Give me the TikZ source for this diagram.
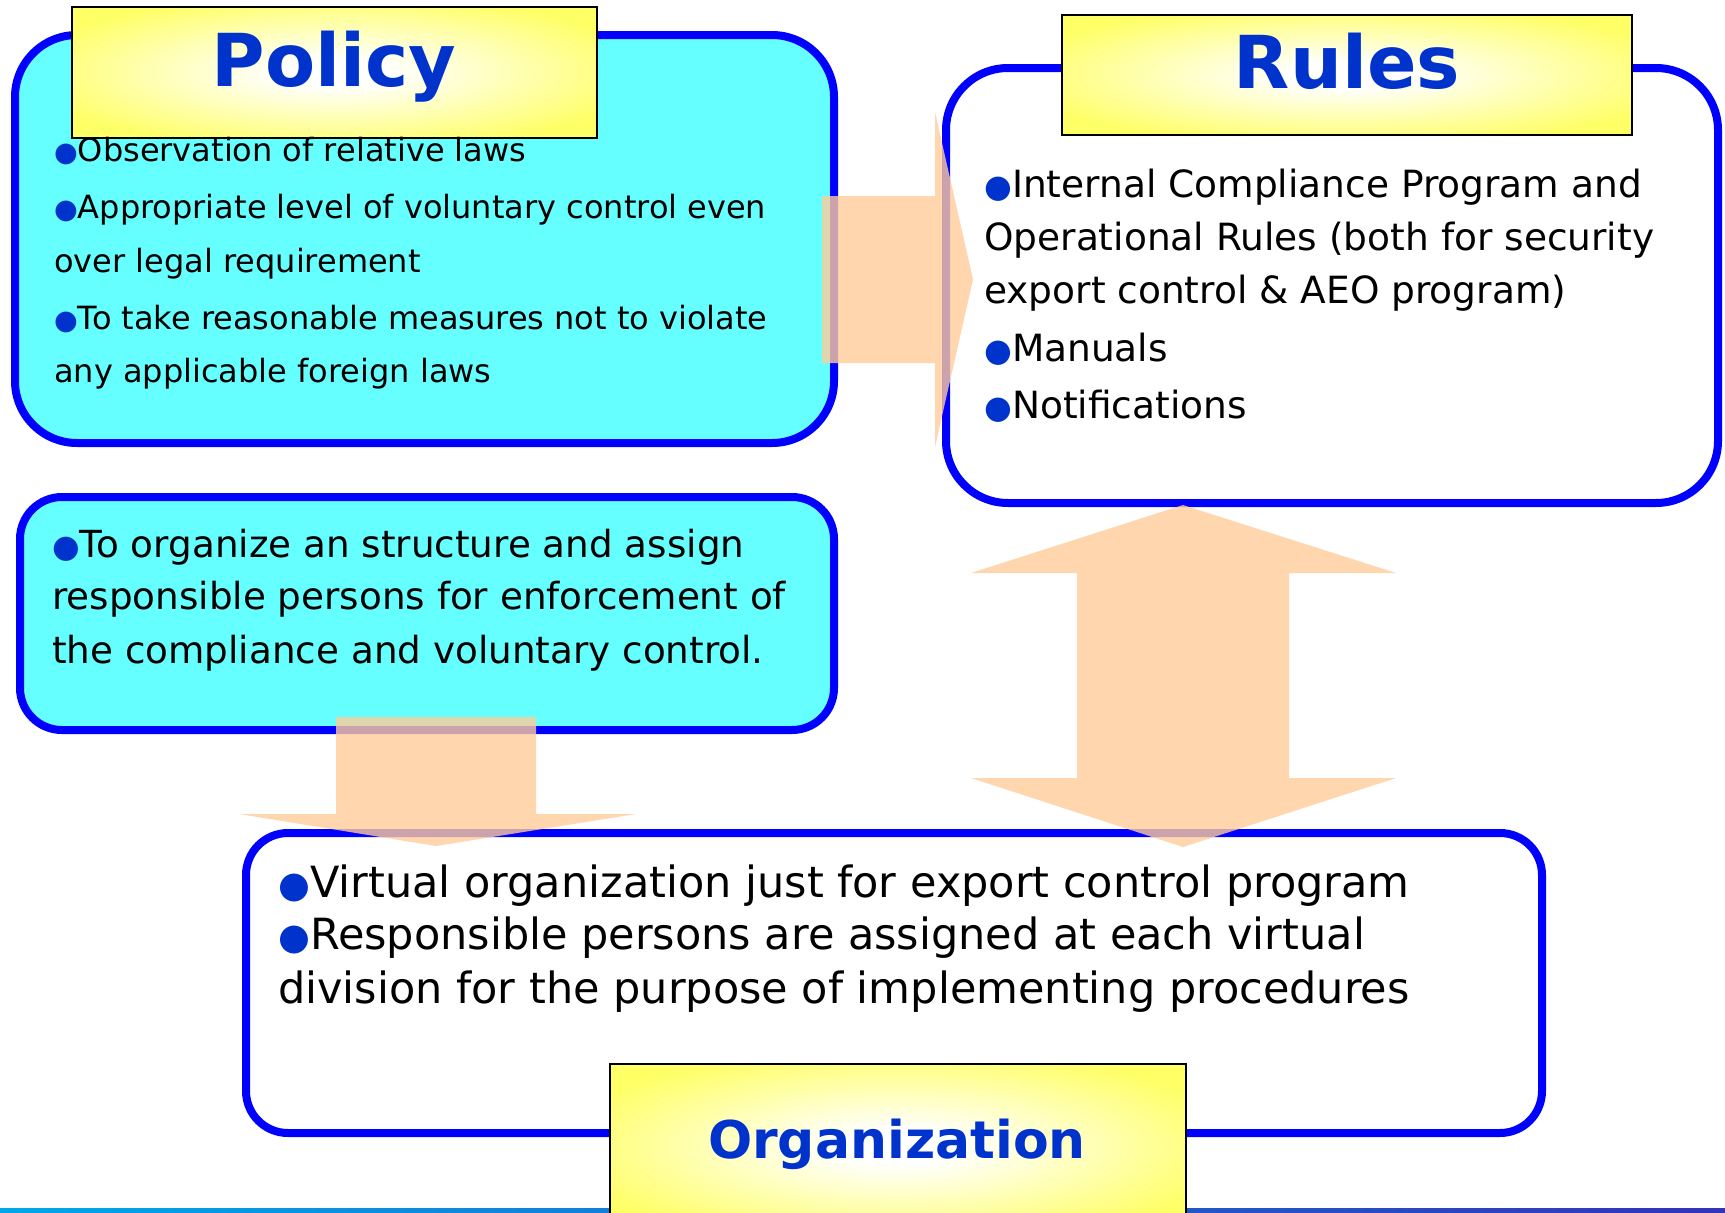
\documentclass[tikz,border=0pt]{standalone}
\usepackage{fontspec}
\setmainfont{DejaVu Sans}
\definecolor{cyanfill}{HTML}{66FFFF}
\definecolor{boxblue}{HTML}{0000FF}
\definecolor{txtblue}{HTML}{0033CC}
\definecolor{ylw}{HTML}{FFFF66}
\definecolor{peach}{HTML}{FFCC99}
\definecolor{lineL}{HTML}{00A8E8}
\definecolor{lineR}{HTML}{3333BB}
\pgfdeclareradialshading{ttlshade}{\pgfpoint{0bp}{0bp}}{color(0bp)=(white);color(5bp)=(white);color(30bp)=(ylw);color(50bp)=(ylw)}
\newcommand\bulletmark{{\color{txtblue}\scalebox{0.85}{●}}}
\begin{document}
\begin{tikzpicture}[x=1pt,y=-1pt,
  bigbox/.style={draw=boxblue,line width=8pt},
  ttlbox/.style={draw=black,line width=1.8pt,shading=ttlshade},
  ttltext/.style={font=\bfseries\fontsize{73}{80}\selectfont,text=txtblue,inner sep=0pt,anchor=base},
  ptext/.style={font=\fontsize{32}{36}\selectfont,inner sep=0pt,anchor=base west},
  rtext/.style={font=\fontsize{37.5}{42}\selectfont,inner sep=0pt,anchor=base west},
  stext/.style={font=\fontsize{37.3}{42}\selectfont,inner sep=0pt,anchor=base west},
  otext/.style={font=\fontsize{43}{48}\selectfont,inner sep=0pt,anchor=base west},
  blockarrow/.style={fill=peach,fill opacity=0.8,draw=none}]
\clip (0,0) rectangle (1725,1213);
\fill[white] (0,0) rectangle (1725,1213);

% Policy box
\path[bigbox,fill=cyanfill,rounded corners=62pt] (15,35) rectangle (834,443);
\shadedraw[ttlbox] (72,7) rectangle (597,138);
\node[ttltext] (policy) at (334,86) {Policy};
\node[ptext] (p1) at (54,161) {\bulletmark Observation of relative laws};
\node[ptext] (p2) at (54,218) {\bulletmark Appropriate level of voluntary control even};
\node[ptext] (p3) at (54,272) {over legal requirement};
\node[ptext] (p4) at (54,329) {\bulletmark To take reasonable measures not to violate};
\node[ptext] (p5) at (54,382) {any applicable foreign laws};

% Rules box
\path[bigbox,fill=white,rounded corners=62pt] (946,68) rectangle (1718,503);
\shadedraw[ttlbox] (1062,15) rectangle (1632,135);
\node[ttltext] (rules) at (1347,88) {Rules};
\node[rtext] (r1) at (984,197) {\bulletmark Internal Compliance Program and};
\node[rtext] (r2) at (984,250) {Operational Rules (both for security};
\node[rtext] (r3) at (984,303) {export control \& AEO program)};
\node[rtext] (r4) at (984,361) {\bulletmark Manuals};
\node[rtext] (r5) at (984,418) {\bulletmark Notifications};

% Structure box
\path[bigbox,fill=cyanfill,rounded corners=42pt] (20,497) rectangle (834,730);
\node[stext] (s1) at (52,557) {\bulletmark To organize an structure and assign};
\node[stext] (s2) at (52,609) {responsible persons for enforcement of};
\node[stext] (s3) at (52,663) {the compliance and voluntary control.};

% Organization box
\path[bigbox,fill=white,rounded corners=42pt] (246,833) rectangle (1542,1133);
\node[otext] (o1) at (278,897) {\bulletmark Virtual organization just for export control program};
\node[otext] (o2) at (278,949) {\bulletmark Responsible persons are assigned at each virtual};
\node[otext] (o3) at (278,1003) {division for the purpose of implementing procedures};

% bottom line
\shade[left color=lineL,right color=lineR] (0,1208) rectangle (1725,1214);
\shadedraw[ttlbox] (610,1064) rectangle (1186,1230);
\node[ttltext,font=\bfseries\fontsize{52}{60}\selectfont] (org) at (897,1158) {Organization};

% block arrows
\path[blockarrow] (822,196) -- (935,196) -- (935,112) -- (973,279.5) -- (935,447) -- (935,363) -- (822,363) -- cycle;
\path[blockarrow] (336,717) -- (536,717) -- (536,814) -- (636,814) -- (436,846) -- (239,814) -- (336,814) -- cycle;
\path[blockarrow] (1183,505) -- (1396,573) -- (1289,573) -- (1289,778) -- (1396,778) -- (1183,847) -- (971,778) -- (1077,778) -- (1077,573) -- (971,573) -- cycle;
\end{tikzpicture}
\end{document}
